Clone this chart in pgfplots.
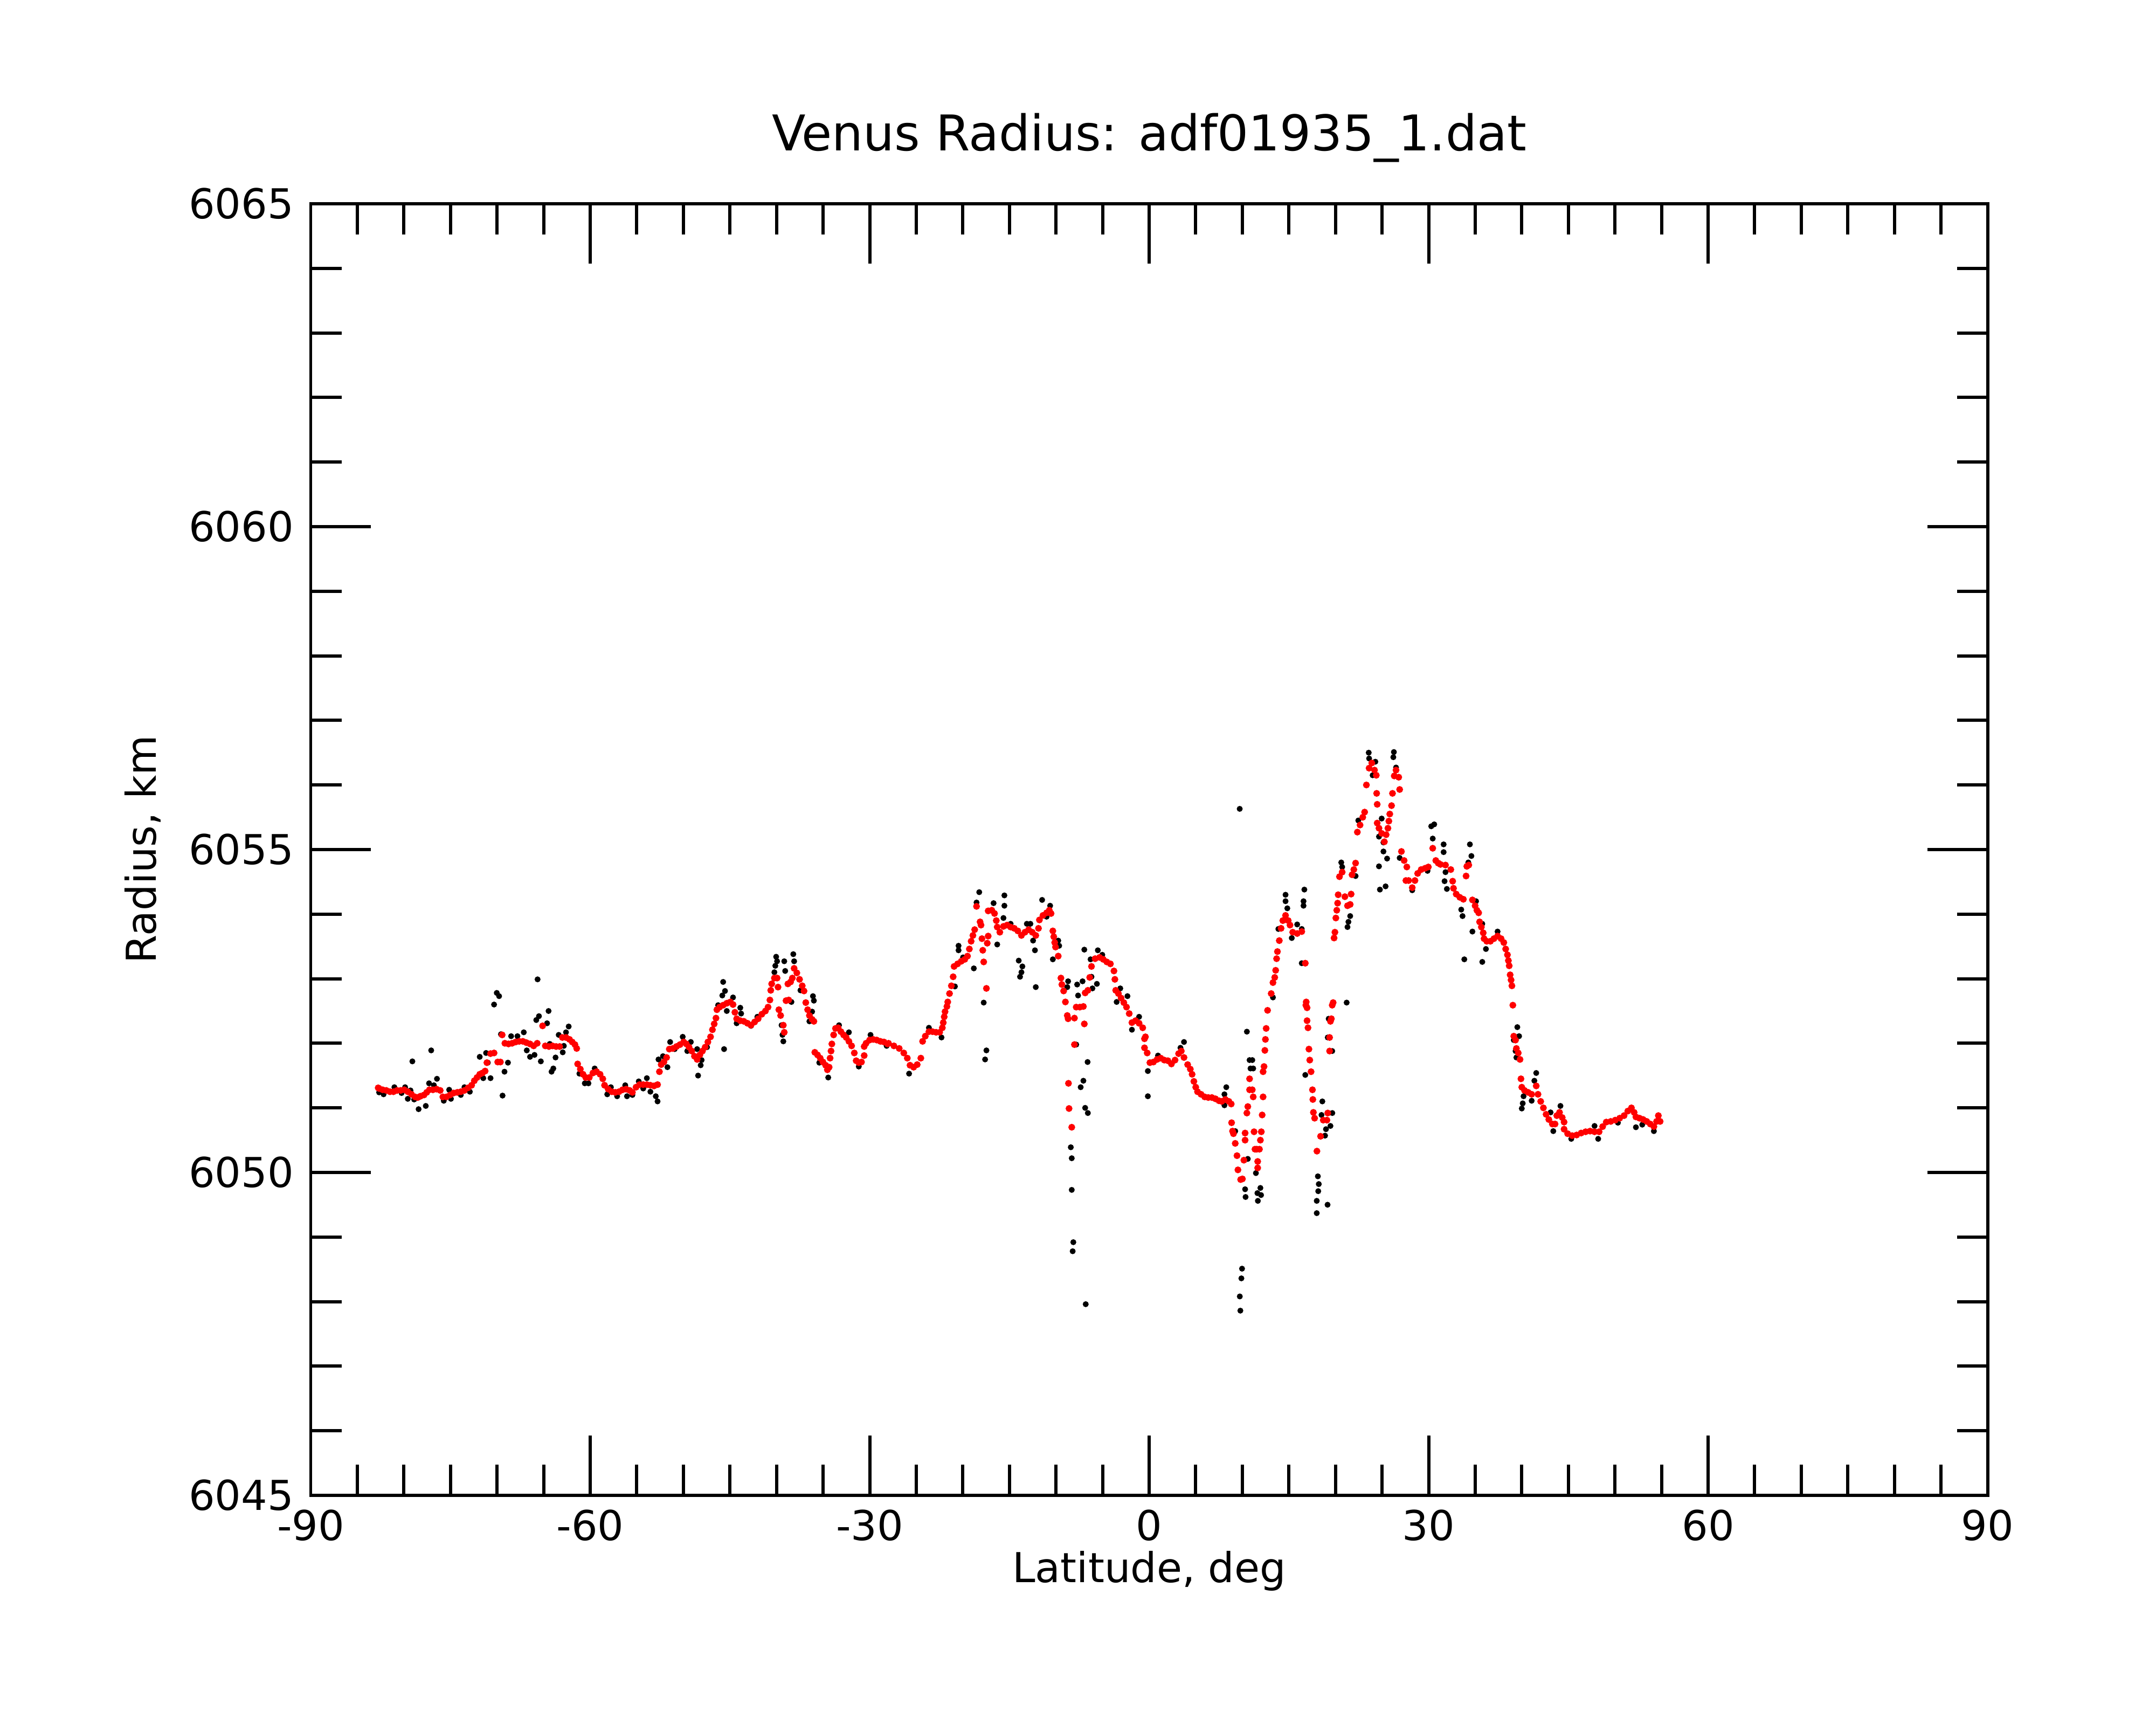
\documentclass[border=0pt]{standalone}
\usepackage{fontspec}
\setmainfont{DejaVu Sans}
\usepackage{pgfplots}
\pgfplotsset{compat=1.18}
\pgfplotstableread{
lat R
-82.66 6051.24
-82.18 6051.21
-81.02 6051.32
-80.25 6051.23
-79.87 6051.32
-79.58 6051.14
-79.09 6051.72
-79.29 6051.27
-78.90 6051.13
-78.42 6050.98
-77.65 6051.03
-77.30 6051.38
-77.07 6051.89
-76.78 6051.35
-76.45 6051.45
-75.72 6051.11
-75.14 6051.28
-74.95 6051.14
-73.89 6051.20
-73.50 6051.32
-72.92 6051.25
-71.86 6051.79
-71.48 6051.46
-71.18 6051.85
-70.70 6051.46
-70.99 6051.70
-70.32 6052.60
-70.03 6052.78
-69.78 6052.73
-69.58 6052.14
-69.41 6051.19
-69.20 6051.56
-68.83 6051.70
-68.49 6052.11
-67.81 6052.11
-67.13 6052.17
-66.81 6051.89
-66.46 6051.79
-65.98 6051.82
-65.65 6052.99
-65.79 6052.36
-65.50 6052.42
-65.30 6051.72
-64.63 6052.31
-64.47 6052.50
-64.34 6051.99
-64.15 6051.56
-63.96 6051.61
-63.72 6051.78
-63.38 6052.13
-62.95 6051.86
-62.83 6051.96
-62.60 6052.17
-62.31 6052.26
-61.16 6051.53
-60.58 6051.38
-60.19 6051.38
-59.52 6051.61
-58.17 6051.21
-57.78 6051.32
-57.11 6051.18
-56.24 6051.35
-56.05 6051.18
-55.47 6051.20
-54.79 6051.41
-54.31 6051.30
-53.92 6051.46
-53.54 6051.25
-52.96 6051.18
-52.77 6051.10
-52.67 6051.75
-52.19 6051.80
-51.71 6051.63
-51.42 6052.02
-50.93 6051.91
-50.07 6052.10
-49.58 6051.88
-49.20 6052.02
-48.52 6051.91
-48.42 6051.50
-48.14 6051.66
-48.04 6051.74
-47.46 6051.94
-46.27 6052.59
-45.73 6052.95
-45.53 6052.81
-45.82 6052.74
-45.63 6051.91
-45.34 6052.50
-44.67 6052.71
-43.89 6052.55
-43.80 6052.46
-44.28 6052.31
-42.74 6052.27
-42.06 6052.41
-40.04 6053.34
-39.94 6053.27
-40.13 6053.20
-40.23 6053.10
-39.17 6053.27
-39.07 6053.12
-38.20 6053.38
-38.11 6053.27
-38.40 6052.64
-39.46 6052.28
-39.27 6052.03
-39.36 6052.13
-37.43 6052.82
-36.09 6052.73
-35.99 6052.66
-36.18 6052.49
-36.47 6052.34
-35.41 6051.70
-34.45 6051.47
-33.29 6052.28
-32.23 6052.17
-31.17 6051.64
-29.91 6052.13
-28.18 6051.96
-25.77 6051.53
-23.64 6052.24
-22.29 6052.09
-20.85 6052.88
-20.46 6053.51
-20.46 6053.44
-19.98 6053.33
-18.82 6053.16
-18.24 6054.34
-18.53 6054.18
-17.76 6052.63
-17.47 6051.89
-17.61 6051.75
-16.70 6054.17
-16.31 6053.53
-15.54 6054.29
-15.54 6054.13
-15.64 6053.94
-14.87 6053.85
-14.00 6053.28
-13.61 6053.19
-13.71 6053.10
-13.86 6053.03
-13.13 6053.85
-12.75 6053.85
-12.26 6053.44
-12.17 6052.87
-12.46 6053.59
-11.49 6054.22
-10.63 6054.13
-11.01 6053.96
-9.76 6053.59
-9.66 6053.51
-10.34 6053.30
-8.70 6052.96
-8.79 6052.87
-7.83 6051.98
-6.61 6051.71
-7.06 6051.42
-7.35 6051.32
-6.87 6051.00
-6.58 6050.92
-8.41 6050.39
-8.31 6050.22
-8.31 6049.73
-8.14 6048.92
-8.21 6048.78
-6.81 6047.96
-7.73 6052.91
-7.15 6052.96
-7.63 6052.74
-6.19 6053.03
-5.61 6052.92
-6.09 6052.85
-6.96 6053.45
-5.51 6053.44
-6.29 6053.30
-5.03 6053.37
-3.10 6052.85
-2.33 6052.73
-3.49 6052.64
-1.85 6052.21
-1.08 6052.41
-0.14 6051.57
-0.14 6051.18
3.74 6052.02
3.36 6051.93
0.95 6051.81
8.28 6051.32
8.08 6051.21
8.08 6051.04
10.49 6052.18
10.78 6051.74
11.07 6051.74
10.88 6051.61
11.17 6051.61
9.24 6050.64
10.59 6050.21
11.46 6049.99
11.94 6049.76
10.30 6049.74
11.62 6049.68
11.67 6049.56
10.35 6049.62
12.01 6049.65
9.97 6048.51
9.90 6048.36
9.73 6048.08
9.79 6047.86
13.29 6052.71
16.76 6051.51
21.20 6052.63
18.59 6051.10
18.50 6050.89
19.66 6050.92
19.46 6050.72
18.98 6050.67
18.88 6050.57
18.11 6049.94
18.21 6049.82
17.99 6049.56
17.99 6049.37
18.15 6049.71
19.15 6049.50
19.27 6052.38
19.17 6052.09
19.65 6051.88
9.72 6055.63
14.64 6054.30
14.64 6054.20
14.83 6054.09
16.66 6054.38
16.57 6054.20
16.57 6054.13
15.31 6053.63
15.89 6053.84
16.38 6053.77
16.38 6053.24
13.87 6053.77
20.62 6054.80
20.72 6054.73
21.58 6053.97
21.39 6053.88
21.29 6053.80
22.16 6054.59
22.45 6055.45
23.57 6056.50
23.61 6056.41
24.28 6056.36
23.99 6056.15
24.96 6055.48
24.67 6055.20
25.15 6055.11
25.15 6054.97
25.54 6054.86
24.67 6054.74
24.77 6054.38
25.38 6054.43
26.27 6056.51
26.21 6056.43
26.50 6056.27
26.89 6054.87
28.24 6054.37
29.88 6054.67
30.28 6055.36
30.60 6055.39
30.44 6055.17
31.61 6055.08
31.61 6054.96
34.43 6055.08
34.59 6054.90
34.26 6054.80
31.81 6054.65
31.71 6054.51
31.96 6054.39
33.50 6054.07
33.64 6053.97
34.70 6053.73
35.09 6054.20
35.76 6053.85
33.83 6053.30
35.76 6053.26
36.15 6053.46
37.40 6053.73
39.52 6052.25
39.71 6052.11
39.14 6052.05
39.33 6051.88
39.42 6051.78
41.55 6051.54
41.35 6051.42
40.10 6051.07
40.00 6050.99
40.19 6051.18
41.06 6051.11
43.09 6050.93
43.38 6050.64
44.15 6051.03
45.31 6050.52
47.81 6050.72
48.20 6050.52
50.32 6050.77
52.25 6050.70
52.93 6050.74
54.18 6050.64
}\rawdata
\pgfplotstableread{
lat R
-82.76 6051.31
-82.66 6051.30
-82.28 6051.28
-81.89 6051.27
-81.50 6051.25
-81.12 6051.25
-80.73 6051.27
-80.35 6051.27
-79.96 6051.28
-79.58 6051.25
-79.19 6051.21
-78.80 6051.17
-78.52 6051.16
-78.23 6051.18
-77.84 6051.20
-77.55 6051.24
-77.26 6051.28
-76.88 6051.28
-76.49 6051.29
-76.10 6051.27
-75.82 6051.17
-75.43 6051.17
-75.04 6051.20
-74.66 6051.23
-74.27 6051.24
-73.89 6051.25
-73.50 6051.27
-73.11 6051.31
-72.73 6051.35
-72.44 6051.42
-72.15 6051.47
-71.86 6051.52
-71.57 6051.54
-71.28 6051.57
-71.09 6051.70
-70.70 6051.84
-70.32 6051.85
-69.93 6051.71
-69.64 6051.71
-69.45 6052.13
-69.16 6052.00
-68.77 6051.99
-68.39 6052.00
-68.00 6052.02
-67.62 6052.03
-67.23 6052.03
-66.85 6052.01
-66.46 6051.99
-66.07 6051.96
-65.69 6052.00
-65.11 6052.27
-64.82 6051.96
-64.43 6051.95
-64.05 6051.96
-63.66 6051.95
-63.28 6051.95
-62.99 6052.09
-62.60 6052.09
-62.22 6052.06
-61.93 6052.02
-61.64 6051.98
-61.45 6051.92
-61.35 6051.68
-61.06 6051.60
-60.77 6051.52
-60.48 6051.47
-60.10 6051.47
-59.71 6051.54
-59.32 6051.56
-58.94 6051.52
-58.65 6051.45
-58.46 6051.35
-58.07 6051.29
-57.68 6051.25
-57.30 6051.24
-56.91 6051.25
-56.53 6051.28
-56.14 6051.29
-55.76 6051.27
-55.47 6051.24
-55.08 6051.32
-54.70 6051.36
-54.31 6051.36
-53.92 6051.36
-53.54 6051.35
-53.15 6051.34
-52.77 6051.36
-52.57 6051.56
-52.38 6051.67
-52.09 6051.71
-51.80 6051.78
-51.51 6051.91
-51.13 6051.92
-50.74 6051.95
-50.36 6051.98
-49.97 6052.02
-49.68 6051.99
-49.39 6051.94
-49.10 6051.88
-48.81 6051.80
-48.52 6051.75
-48.23 6051.82
-47.95 6051.88
-47.66 6051.94
-47.37 6052.02
-47.08 6052.10
-46.88 6052.21
-46.69 6052.30
-46.50 6052.39
-46.40 6052.52
-46.11 6052.56
-45.73 6052.59
-45.34 6052.62
-44.96 6052.64
-44.67 6052.60
-44.47 6052.48
-44.28 6052.38
-43.89 6052.35
-43.51 6052.34
-43.12 6052.31
-42.74 6052.28
-42.35 6052.33
-41.97 6052.38
-41.58 6052.45
-41.19 6052.50
-40.91 6052.56
-40.71 6052.67
-40.62 6052.82
-40.52 6052.92
-40.23 6053.01
-39.94 6053.01
-39.84 6052.87
-39.75 6052.52
-39.56 6052.43
-39.27 6052.28
-39.17 6052.17
-38.98 6052.66
-38.69 6052.67
-38.78 6052.92
-38.49 6052.95
-38.30 6053.01
-38.11 6053.16
-37.82 6053.09
-37.53 6052.99
-37.24 6052.89
-37.05 6052.81
-36.86 6052.63
-36.66 6052.52
-36.47 6052.43
-36.18 6052.37
-35.99 6052.34
-35.89 6051.86
-35.60 6051.82
-35.31 6051.77
-35.02 6051.71
-34.73 6051.66
-34.54 6051.59
-34.35 6051.63
-34.25 6051.77
-34.15 6051.88
-34.06 6051.99
-33.87 6052.13
-33.67 6052.23
-33.38 6052.24
-33.09 6052.18
-32.80 6052.13
-32.52 6052.09
-32.23 6052.03
-31.94 6051.96
-31.65 6051.85
-31.45 6051.73
-31.17 6051.70
-30.88 6051.71
-30.59 6051.81
-30.59 6051.95
-30.39 6052.00
-30.01 6052.05
-29.62 6052.06
-29.24 6052.05
-28.85 6052.03
-28.47 6052.02
-28.08 6051.99
-27.98 6052.00
-27.40 6051.96
-26.83 6051.92
-26.34 6051.85
-25.96 6051.77
-25.67 6051.66
-25.28 6051.63
-24.90 6051.67
-24.51 6051.77
-24.32 6052.03
-24.03 6052.11
-23.64 6052.18
-23.26 6052.18
-22.87 6052.17
-22.49 6052.17
-22.20 6052.24
-22.10 6052.32
-22.00 6052.41
-21.91 6052.49
-21.71 6052.57
-21.62 6052.64
-21.43 6052.77
-21.23 6052.89
-21.04 6053.03
-20.94 6053.19
-20.56 6053.23
-20.17 6053.27
-19.79 6053.30
-19.50 6053.35
-19.30 6053.46
-19.11 6053.58
-18.92 6053.67
-18.73 6053.76
-18.53 6054.12
-18.15 6053.88
-18.05 6053.83
-17.95 6053.62
-17.86 6053.44
-17.76 6053.26
-17.47 6052.85
-17.28 6053.66
-17.38 6053.55
-17.28 6054.05
-16.89 6054.06
-16.60 6054.01
-16.41 6053.90
-16.31 6053.80
-16.03 6053.72
-15.64 6053.81
-15.25 6053.83
-14.87 6053.80
-14.48 6053.78
-14.10 6053.74
-13.71 6053.67
-13.33 6053.72
-12.94 6053.76
-12.55 6053.72
-12.17 6053.67
-11.88 6053.78
-11.78 6053.91
-11.40 6053.98
-11.01 6054.02
-10.72 6054.06
-10.53 6054.01
-10.34 6053.74
-10.24 6053.65
-10.14 6053.56
-10.05 6053.49
-9.76 6053.35
-9.47 6053.01
-9.37 6052.91
-9.18 6052.81
-8.99 6052.64
-8.79 6052.43
-8.70 6052.38
-8.02 6052.39
-8.02 6051.98
-8.66 6051.38
-8.60 6050.99
-8.31 6050.70
-7.83 6052.56
-7.44 6052.56
-7.06 6052.57
-6.96 6052.30
-6.87 6052.78
-6.58 6052.82
-6.38 6053.02
-6.19 6053.19
-5.80 6053.31
-5.32 6053.33
-4.93 6053.30
-4.55 6053.26
-4.16 6053.23
-3.78 6053.12
-3.68 6052.99
-3.59 6052.82
-3.30 6052.77
-3.01 6052.70
-2.72 6052.63
-2.43 6052.56
-2.14 6052.46
-1.85 6052.32
-1.46 6052.35
-1.08 6052.31
-0.69 6052.24
-0.50 6052.07
-0.50 6051.93
-0.40 6052.10
-0.21 6051.85
0.08 6051.70
0.46 6051.71
0.85 6051.75
1.24 6051.77
1.62 6051.74
2.01 6051.73
2.39 6051.68
2.78 6051.74
3.16 6051.84
3.45 6051.88
3.74 6051.78
4.13 6051.67
4.42 6051.60
4.61 6051.52
4.80 6051.41
5.00 6051.32
5.19 6051.25
5.57 6051.21
5.96 6051.17
6.35 6051.16
6.73 6051.16
7.12 6051.14
7.50 6051.11
7.79 6051.10
8.18 6051.13
8.56 6051.10
8.81 6051.06
8.85 6050.77
8.95 6050.64
9.05 6050.60
9.24 6050.45
9.43 6050.26
9.53 6050.04
9.82 6049.89
10.01 6049.90
10.17 6050.19
10.30 6050.61
10.30 6050.50
10.49 6050.92
10.59 6051.02
10.78 6051.28
10.78 6051.45
11.07 6051.28
11.17 6051.17
11.26 6050.63
11.36 6050.36
11.55 6050.36
11.65 6050.17
11.65 6050.07
11.84 6050.36
11.94 6050.50
12.04 6050.63
12.13 6050.89
12.23 6051.17
12.23 6051.56
12.33 6051.64
12.42 6051.89
12.48 6052.06
12.56 6052.23
12.71 6052.51
13.10 6052.77
13.29 6052.94
13.48 6053.02
13.58 6053.13
13.68 6053.31
13.77 6053.42
13.97 6053.59
14.16 6053.78
14.35 6053.90
14.64 6053.98
14.93 6053.90
15.12 6053.83
15.41 6053.72
15.89 6053.70
16.38 6053.73
16.76 6053.24
16.82 6052.59
16.86 6052.64
16.95 6052.55
16.95 6052.35
17.05 6052.24
17.15 6051.91
17.24 6051.74
17.38 6051.56
17.53 6051.28
17.57 6051.13
17.63 6050.93
17.76 6050.84
18.01 6050.33
18.40 6050.56
18.69 6050.81
19.08 6050.81
19.17 6050.92
19.37 6051.88
19.37 6052.09
19.46 6052.34
19.56 6052.38
19.65 6052.59
19.75 6052.63
19.85 6053.63
19.94 6053.72
20.04 6053.94
20.14 6054.06
20.23 6054.17
20.29 6054.30
20.43 6054.58
20.72 6054.65
21.01 6054.27
21.29 6054.13
21.58 6054.15
21.68 6054.31
21.78 6054.61
21.97 6054.69
22.16 6054.79
22.35 6055.27
22.64 6055.38
22.93 6055.50
23.13 6055.58
23.32 6056.00
23.61 6056.26
23.90 6056.34
24.19 6056.23
24.38 6056.15
24.42 6055.87
24.48 6055.70
24.48 6055.41
24.67 6055.33
24.96 6055.25
25.25 6055.12
25.44 6055.23
25.63 6055.33
25.73 6055.44
25.83 6055.55
26.02 6055.68
26.12 6055.87
26.31 6056.14
26.50 6056.23
26.79 6056.12
26.89 6055.93
27.08 6054.97
27.37 6054.83
27.56 6054.52
27.66 6054.73
27.85 6054.52
28.24 6054.41
28.53 6054.52
28.82 6054.63
29.20 6054.69
29.62 6054.71
29.97 6054.73
30.44 6055.02
30.77 6054.83
31.03 6054.79
31.27 6054.77
31.81 6054.76
32.38 6054.69
32.58 6054.51
32.67 6054.40
32.96 6054.31
33.35 6054.26
33.73 6054.23
34.02 6054.59
34.10 6054.74
34.31 6054.76
34.70 6054.22
34.99 6054.13
35.18 6054.06
35.37 6054.02
35.47 6053.88
35.66 6053.80
35.86 6053.71
35.95 6053.62
36.24 6053.58
36.63 6053.58
37.01 6053.62
37.40 6053.66
37.78 6053.62
38.07 6053.56
38.27 6053.46
38.46 6053.37
38.56 6053.28
38.65 6053.20
38.75 6053.06
38.85 6052.98
38.94 6052.89
39.04 6052.59
39.14 6052.11
39.33 6052.05
39.42 6051.92
39.62 6051.85
39.81 6051.75
39.91 6051.45
40.00 6051.32
40.29 6051.27
40.68 6051.24
41.06 6051.21
41.55 6051.34
41.74 6051.21
42.03 6051.10
42.32 6051.00
42.61 6050.90
42.90 6050.82
43.28 6050.75
43.57 6050.75
43.76 6050.88
44.05 6050.93
44.34 6050.85
44.54 6050.78
44.54 6050.67
44.92 6050.60
45.40 6050.57
45.89 6050.58
46.37 6050.61
46.85 6050.63
47.33 6050.64
47.81 6050.63
48.30 6050.63
48.68 6050.71
49.07 6050.78
49.55 6050.79
50.03 6050.81
50.51 6050.84
50.98 6050.88
51.38 6050.95
51.77 6051.00
52.06 6050.93
52.25 6050.86
52.64 6050.84
53.02 6050.82
53.41 6050.79
53.79 6050.75
54.18 6050.71
54.47 6050.79
54.66 6050.88
54.85 6050.79
}\smoothdata
\begin{document}
\begin{tikzpicture}
\useasboundingbox (-2.306,-1.704) rectangle (13.694,11.096);
\begin{axis}[
  at={(0,0)}, anchor=south west,
  scale only axis, width=12.444cm, height=9.584cm,
  xmin=-90, xmax=90, ymin=6045, ymax=6065,
  xtick={-90,-60,-30,0,30,60,90},
  xticklabels={-90,-60,-30,0,30,60,90},
  minor x tick num=5,
  ytick={6045,6050,6055,6060,6065},
  yticklabels={6045,6050,6055,6060,6065},
  minor y tick num=4,
  tick align=inside,
  xtick pos=both, ytick pos=both,
  xticklabel pos=lower, yticklabel pos=left,
  major tick length=0.445cm, minor tick length=0.228cm,
  axis line style={line width=0.68pt},
  tick style={black, line width=0.68pt},
  tick label style={font=\fontsize{8.7}{10}\selectfont},
  xticklabel style={inner sep=0pt, yshift=-0.1cm},
  yticklabel style={inner sep=0pt, xshift=-0.12cm},
]
\addplot[only marks, mark=*, mark size=0.52pt, black, mark options={line width=0.2pt}] table[x=lat, y=R] {\rawdata};
\addplot[only marks, mark=*, mark size=0.62pt, red, mark options={line width=0.2pt}] table[x=lat, y=R] {\smoothdata};
\end{axis}
\node[font=\fontsize{10.4}{12}\selectfont] at (6.222,10.074) {Venus Radius: adf01935\_1.dat};
\node[font=\fontsize{8.7}{10}\selectfont] at (6.222,-0.56) {Latitude, deg};
\node[rotate=90, font=\fontsize{8.7}{10}\selectfont] at (-1.246,4.792) {Radius, km};
\end{tikzpicture}
\end{document}
